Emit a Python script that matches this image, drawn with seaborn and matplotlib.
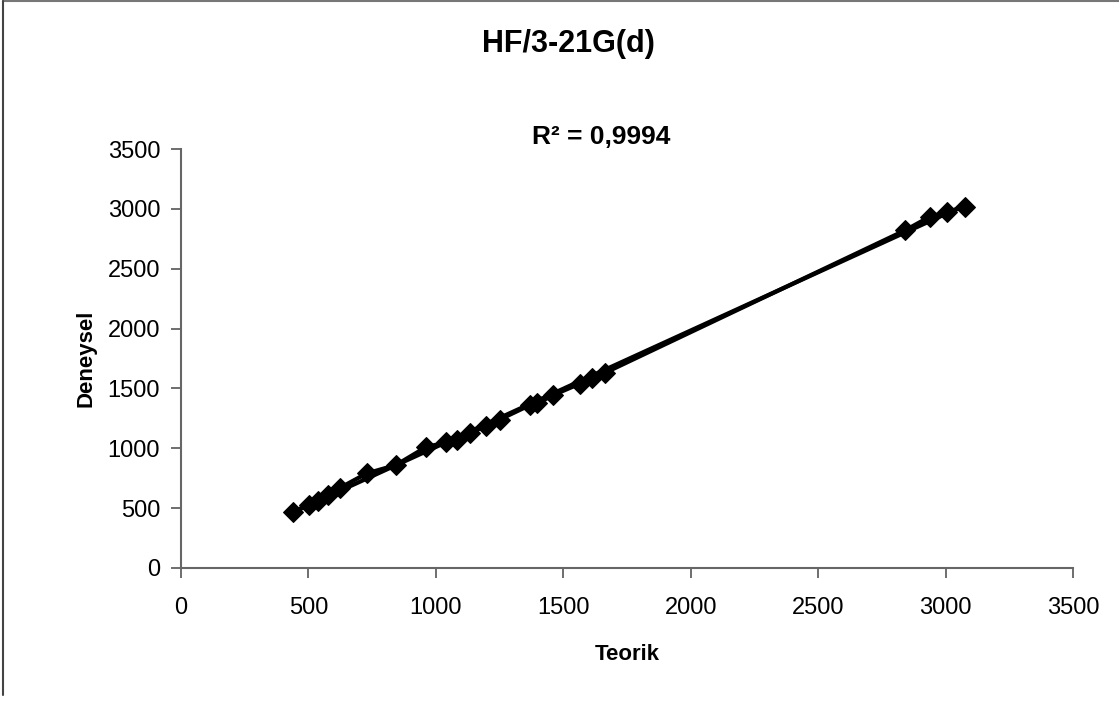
import matplotlib
matplotlib.use("Agg")
import matplotlib.pyplot as plt
from matplotlib.lines import Line2D
import seaborn as sns
import pandas as pd

teorik = [440, 503, 539, 578, 624, 728, 843, 961, 1040, 1081, 1134, 1197,
          1250, 1368, 1398, 1461, 1565, 1611, 1663, 2840, 2938, 3004, 3076]
deneysel = [470, 530, 560, 610, 670, 790, 860, 1010, 1050, 1070, 1125, 1190,
            1240, 1360, 1375, 1445, 1540, 1590, 1630, 2820, 2935, 2975, 3015]
ticks = [0, 500, 1000, 1500, 2000, 2500, 3000, 3500]


def main():
    sns.set_style("white")
    plt.rcParams["font.family"] = ["Liberation Sans", "DejaVu Sans"]
    plt.rcParams["text.color"] = "black"
    plt.rcParams["axes.labelcolor"] = "black"
    plt.rcParams["xtick.color"] = "black"
    plt.rcParams["ytick.color"] = "black"

    df = pd.DataFrame({"Teorik": teorik, "Deneysel": deneysel})

    fig = plt.figure(figsize=(11.19, 7.02), dpi=100)
    ax = fig.add_axes([0.1618, 0.1909, 0.7972, 0.5968])

    sns.regplot(data=df, x="Teorik", y="Deneysel", scatter=False, ci=None,
                truncate=True, color="black", line_kws={"linewidth": 3}, ax=ax)
    sns.lineplot(data=df, x="Teorik", y="Deneysel", estimator=None, sort=False,
                 color="black", linewidth=3, marker="D", markersize=10,
                 markeredgecolor="black", ax=ax)

    ax.set_xlim(0, 3500)
    ax.set_ylim(0, 3500)
    ax.set_xticks(ticks)
    ax.set_yticks(ticks)
    ax.tick_params(axis="both", labelsize=17, length=7, width=1.2,
                   color="#555555", labelcolor="black", direction="out",
                   bottom=True, left=True)
    ax.tick_params(axis="x", pad=14)
    ax.tick_params(axis="y", pad=8)
    for side in ["top", "right"]:
        ax.spines[side].set_visible(False)
    for side in ["left", "bottom"]:
        ax.spines[side].set_color("#666666")
        ax.spines[side].set_linewidth(1.5)

    ax.set_xlabel("Teorik", fontsize=16, fontweight="bold", labelpad=18)
    ax.set_ylabel("Deneysel", fontsize=16, fontweight="bold", labelpad=8)

    fig.text(0.508, 0.938, "HF/3-21G(d)", ha="center", va="center",
             fontsize=22, fontweight="bold")
    fig.text(0.537, 0.805, "R² = 0,9994", ha="center", va="center",
             fontsize=19, fontweight="bold")

    # chart area border (top and left only are visible)
    fig.add_artist(Line2D([0.003, 1.0], [0.998, 0.998], color="#777777",
                          linewidth=1.5, transform=fig.transFigure))
    fig.add_artist(Line2D([0.003, 0.003], [0.01, 0.998], color="#444444",
                          linewidth=1.5, transform=fig.transFigure))

    fig.savefig("out.png", dpi=100, facecolor="white")


if __name__ == "__main__":
    main()
